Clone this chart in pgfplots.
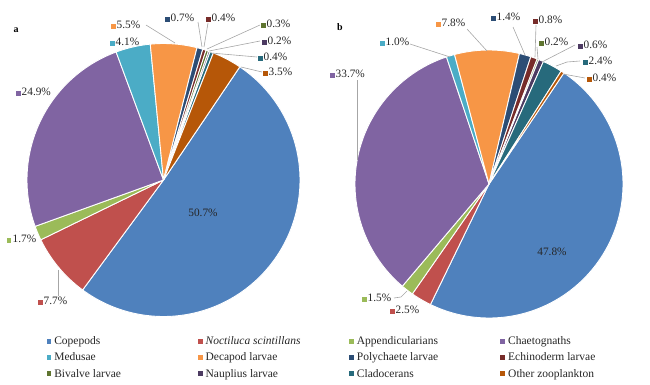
\documentclass[border=0pt]{standalone}
\usepackage{pgfplots}
\pgfplotsset{compat=1.18}
\usepackage{fontspec}
\setmainfont{Liberation Serif}
\definecolor{cCop}{HTML}{4F81BD}
\definecolor{cNoc}{HTML}{C0504D}
\definecolor{cApp}{HTML}{9BBB59}
\definecolor{cCha}{HTML}{8064A2}
\definecolor{cMed}{HTML}{4BACC6}
\definecolor{cDec}{HTML}{F79646}
\definecolor{cPol}{HTML}{2C4D75}
\definecolor{cEch}{HTML}{772C2A}
\definecolor{cBiv}{HTML}{5F7530}
\definecolor{cNau}{HTML}{4D3B62}
\definecolor{cCla}{HTML}{276A7C}
\definecolor{cOth}{HTML}{B65708}
\definecolor{txt}{HTML}{262626}
\definecolor{leadc}{HTML}{A6A6A6}
\newcommand\lfont{\fontsize{11.3}{13}\selectfont}
% pie setup: centre x, centre y, radius, start angle (clockwise from 12 o'clock), total of percentages
\newcommand\setpie[5]{\gdef\pcx{#1}\gdef\pcy{#2}\gdef\pr{#3}\gdef\pcum{#4}\gdef\ptot{#5}}
\newcommand\slice[3]{%
  \pgfmathsetmacro\sa{90-\pcum}%
  \pgfmathsetmacro\sang{#1/\ptot*360}%
  \pgfmathsetmacro\sb{\sa-\sang}%
  \pgfmathtruncatemacro\ns{max(3,\sang/1.5+2)}%
  \pgfmathsetmacro\newcum{\pcum+\sang}%
  \xdef\pcum{\newcum}%
  \edef\temp{\noexpand\addplot[fill=#2, draw=white, line width=0.9pt, line join=round, domain=\sb:\sa, samples=\ns, #3] ({\pcx+\pr*cos(x)},{\pcy-\pr*sin(x)}) -- (axis cs:\pcx,\pcy) -- cycle;}%
  \temp}
\newcommand\lab[4]{\node[anchor=west, inner sep=0pt, font=\lfont, text=txt, xshift=-2.3pt] at (axis cs:#1,#2) {\textcolor{#3}{\rule{4.6pt}{4.6pt}}\hspace{1.2pt}#4};}
\newcommand\lead[1]{\draw[leadc, line width=0.6pt] #1;}
\newcommand\legtxt[1]{\makebox[143.5pt][l]{\rule[-2.5pt]{0pt}{10.5pt}#1}}
\begin{document}
\begin{tikzpicture}
\useasboundingbox (0,0) rectangle (650pt,384pt);
\begin{axis}[at={(0,0)}, anchor=south west,
  width=650pt, height=384pt, scale only axis,
  xmin=0, xmax=650, ymin=0, ymax=384, y dir=reverse,
  hide axis, clip=false,
  legend columns=4,
  legend image code/.code={\fill[#1,draw=none] (0pt,-2.4pt) rectangle (4.8pt,2.4pt);},
  legend style={draw=none, fill=none, inner sep=0pt, outer sep=0pt,
    at={(axis cs:46.5,357.5)}, anchor=west, font=\fontsize{11.5}{13}\selectfont,
    text=txt, row sep=6.8pt,
    nodes={inner sep=0pt, outer sep=0pt},
    cells={anchor=west},
    /tikz/every odd column/.style={column sep=3pt},
    /tikz/every even column/.style={column sep=0pt}},
  legend entries={\legtxt{Copepods},\legtxt{\textit{Noctiluca scintillans}},\legtxt{Appendicularians},\legtxt{Chaetognaths},
    \legtxt{Medusae},\legtxt{Decapod larvae},\legtxt{Polychaete larvae},\legtxt{Echinoderm larvae},
    \legtxt{Bivalve larvae},\legtxt{Nauplius larvae},\legtxt{Cladocerans},\legtxt{Other zooplankton}},
]
% ---------- pie a ----------
\setpie{163.5}{180}{136.5}{34}{100.1}
\slice{50.7}{cCop}{}
\slice{7.7}{cNoc}{}
\slice{1.7}{cApp}{}
\slice{24.9}{cCha}{}
\slice{4.1}{cMed}{}
\slice{5.5}{cDec}{}
\slice{0.7}{cPol}{}
\slice{0.4}{cEch}{}
\slice{0.3}{cBiv}{}
\slice{0.2}{cNau}{}
\slice{0.4}{cCla}{}
\slice{3.5}{cOth}{}
% ---------- pie b ----------
\setpie{489}{184}{134}{34}{100.1}
\slice{47.8}{cCop}{forget plot}
\slice{2.5}{cNoc}{forget plot}
\slice{1.5}{cApp}{forget plot}
\slice{33.7}{cCha}{forget plot}
\slice{1.0}{cMed}{forget plot}
\slice{7.8}{cDec}{forget plot}
\slice{1.4}{cPol}{forget plot}
\slice{0.8}{cEch}{forget plot}
\slice{0.2}{cBiv}{forget plot}
\slice{0.6}{cNau}{forget plot}
\slice{2.4}{cCla}{forget plot}
\slice{0.4}{cOth}{forget plot}
% ---------- leader lines a ----------
\lead{(58,270) -- (58,296)}
\lead{(146,25) -- (175,43)}
\lead{(198,22) -- (202,47)}
\lead{(208,23) -- (204,47)}
\lead{(260,25) -- (207,49)}
\lead{(260,41) -- (209,51)}
\lead{(257,57) -- (211,53)}
\lead{(262,72) -- (241,67)}
% ---------- leader lines b ----------
\lead{(394,298) -- (401,297) -- (407,291)}
\lead{(357,80) -- (357,160)}
\lead{(410,44) -- (450,57)}
\lead{(467,29) -- (487,51)}
\lead{(513,27) -- (525,55)}
\lead{(536,25) -- (535,57)}
\lead{(537,47) -- (538,59)}
\lead{(575,45) -- (542,62)}
\lead{(580,61) -- (567,62) -- (556,66)}
\lead{(585,78) -- (563,74)}
% ---------- labels a ----------
\node[font=\lfont, text=txt, inner sep=0pt] at (axis cs:203,213) {50.7\%};
\lab{40}{301}{cNoc}{7.7\%}
\lab{9}{239}{cApp}{1.7\%}
\lab{18}{92}{cCha}{24.9\%}
\lab{112}{42}{cMed}{4.1\%}
\lab{113}{25}{cDec}{5.5\%}
\lab{167}{18}{cPol}{0.7\%}
\lab{208}{18}{cEch}{0.4\%}
\lab{263}{24}{cBiv}{0.3\%}
\lab{264}{41}{cNau}{0.2\%}
\lab{260}{57}{cCla}{0.4\%}
\lab{265}{72}{cOth}{3.5\%}
% ---------- labels b ----------
\node[font=\lfont, text=txt, inner sep=0pt] at (axis cs:552,252) {47.8\%};
\lab{392}{310}{cNoc}{2.5\%}
\lab{364}{298}{cApp}{1.5\%}
\lab{332}{74}{cCha}{33.7\%}
\lab{382}{42}{cMed}{1.0\%}
\lab{438}{23}{cDec}{7.8\%}
\lab{493}{17}{cPol}{1.4\%}
\lab{535}{20}{cEch}{0.8\%}
\lab{541}{42}{cBiv}{0.2\%}
\lab{580}{45}{cNau}{0.6\%}
\lab{585}{61}{cCla}{2.4\%}
\lab{589}{78}{cOth}{0.4\%}
% ---------- panel letters ----------
\node[font=\fontsize{10}{12}\selectfont\bfseries, inner sep=0pt] at (axis cs:16,30) {a};
\node[font=\fontsize{10}{12}\selectfont\bfseries, inner sep=0pt] at (axis cs:340,27) {b};
\end{axis}
\end{tikzpicture}
\end{document}
